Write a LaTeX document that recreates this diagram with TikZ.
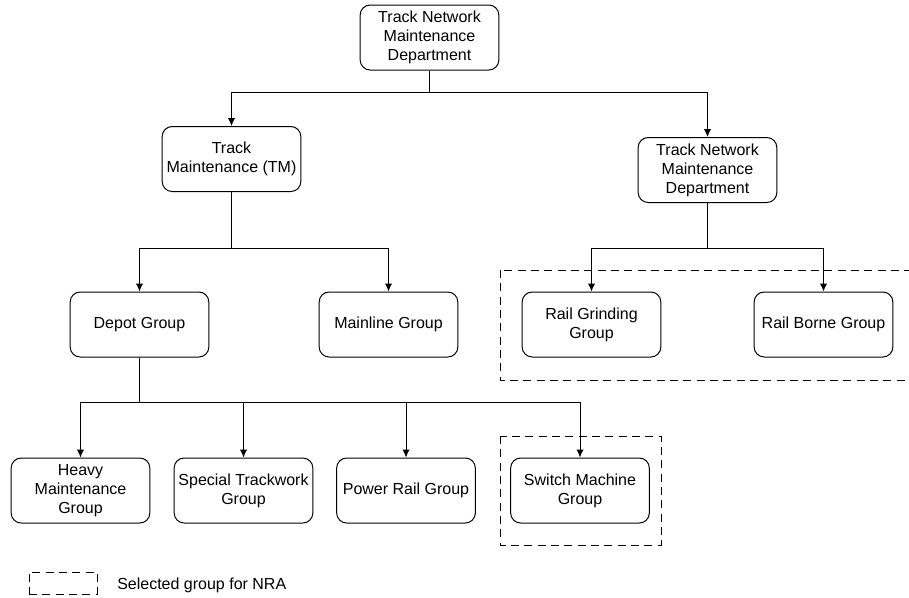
\documentclass[tikz,border=0pt]{standalone}
\usepackage{fontspec}
\setmainfont{Liberation Sans}
\usepackage{tikz}
\usetikzlibrary{arrows,arrows.meta}
\tikzset{
  unit/.style={draw, rounded corners=7.5pt, line width=0.75pt, minimum width=104pt,
    minimum height=48.75pt, align=center, inner sep=2pt,
    font=\fontsize{12}{14.3}\selectfont},
  link/.style={line width=0.75pt, -{Latex[length=6pt,width=5.5pt]}},
  nra/.style={draw, dashed, dash pattern=on 6pt off 4pt, line width=0.75pt}
}
\begin{document}
\begin{tikzpicture}[x=0.75pt,y=-0.75pt]
  \useasboundingbox (0,0) rectangle (909,597);
  % groups selected for NRA
  \draw [nra] (500,270) rectangle (909.5,380);
  \draw [nra] (500,436) rectangle (661,545);
  % boxes
  \node [unit] (tnmd)   at (429.5,37.5) {Track Network\\Maintenance\\Department};
  \node [unit] (tm)     at (231.5,159)  {Track\\Maintenance (TM)};
  \node [unit] (tnmdb)  at (707.5,170)  {Track Network\\Maintenance\\Department};
  \node [unit] (depot)  at (139.5,324.5) {Depot Group};
  \node [unit] (main)   at (388.5,324.5) {Mainline Group};
  \node [unit] (grind)  at (591.5,324.5) {Rail Grinding\\Group};
  \node [unit] (borne)  at (823.5,324.5) {Rail Borne Group};
  \node [unit] (heavy)  at (80.5,490.5)  {Heavy\\Maintenance\\Group};
  \node [unit] (special) at (243.5,490.5) {Special Trackwork\\Group};
  \node [unit] (power)  at (406,490.5)   {Power Rail Group};
  \node [unit] (switch) at (580,490.5)   {Switch Machine\\Group};
  % links
  \draw [link] (tnmd.south) -- +(0,22) -| (tm.north);
  \draw [link] (tnmd.south) -- +(0,22) -| (tnmdb.north);
  \draw [link] (tm.south) -- +(0,56) -| (depot.north);
  \draw [link] (tm.south) -- +(0,56) -| (main.north);
  \draw [link] (tnmdb.south) -- +(0,45) -| (grind.north);
  \draw [link] (tnmdb.south) -- +(0,45) -| (borne.north);
  \draw [link] (depot.south) -- +(0,45) -| (heavy.north);
  \draw [link] (depot.south) -- +(0,45) -| (special.north);
  \draw [link] (depot.south) -- +(0,45) -| (power.north);
  \draw [link] (depot.south) -- +(0,45) -| (switch.north);
  % legend
  \node [nra, minimum width=51pt, minimum height=16.5pt] (key) at (63,583) {};
  \node [anchor=west, font=\fontsize{12}{14.3}\selectfont, inner sep=0pt] (keytext)
    at (117,585) {Selected group for NRA};
\end{tikzpicture}
\end{document}
